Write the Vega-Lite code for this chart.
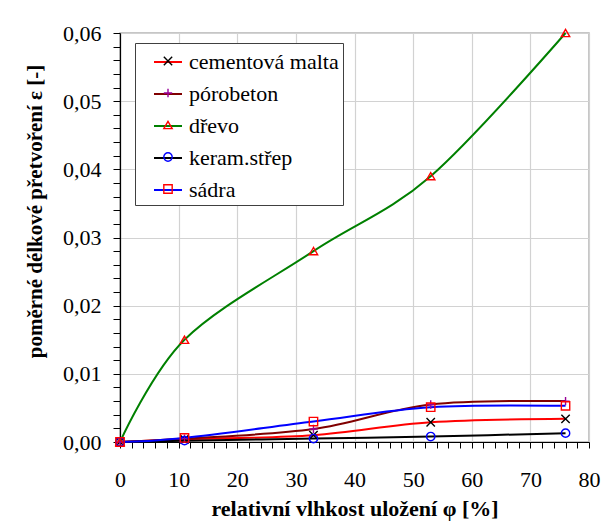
{
  "$schema": "https://vega.github.io/schema/vega-lite/v6.json",
  "width": 469,
  "height": 409,
  "autosize": {"type": "none"},
  "padding": {"left": 120, "top": 33, "right": 16, "bottom": 87},
  "background": "white",
  "config": {
    "font": "Liberation Serif",
    "view": {"stroke": "#b4b4b4", "strokeWidth": 1.5},
    "axis": {
      "domainColor": "black",
      "domainWidth": 1.2,
      "tickColor": "black",
      "tickWidth": 1,
      "labelFont": "Liberation Serif",
      "labelFontSize": 22,
      "labelColor": "black",
      "titleFont": "Liberation Serif",
      "titleFontSize": 22,
      "titleFontWeight": "bold",
      "titleColor": "black",
      "gridColor": "#d2d2d2",
      "gridWidth": 1.2
    }
  },
  "data": {
    "values": [
      {"series": "cementová malta", "marker": "×", "x": 0, "y": 0},
      {"series": "cementová malta", "marker": "×", "x": 11, "y": 0.0004},
      {"series": "cementová malta", "marker": "×", "x": 33, "y": 0.001},
      {"series": "cementová malta", "marker": "×", "x": 53, "y": 0.0029},
      {"series": "cementová malta", "marker": "×", "x": 76, "y": 0.0034},
      {"series": "pórobeton", "marker": "+", "x": 0, "y": 0},
      {"series": "pórobeton", "marker": "+", "x": 11, "y": 0.0005},
      {"series": "pórobeton", "marker": "+", "x": 33, "y": 0.0019},
      {"series": "pórobeton", "marker": "+", "x": 53, "y": 0.0055},
      {"series": "pórobeton", "marker": "+", "x": 76, "y": 0.006},
      {"series": "dřevo", "marker": "△", "x": 0, "y": 0},
      {"series": "dřevo", "marker": "△", "x": 11, "y": 0.015},
      {"series": "dřevo", "marker": "△", "x": 33, "y": 0.028},
      {"series": "dřevo", "marker": "△", "x": 53, "y": 0.039},
      {"series": "dřevo", "marker": "△", "x": 76, "y": 0.06},
      {"series": "keram.střep", "marker": "○", "x": 0, "y": 0},
      {"series": "keram.střep", "marker": "○", "x": 11, "y": 0.0002},
      {"series": "keram.střep", "marker": "○", "x": 33, "y": 0.0005},
      {"series": "keram.střep", "marker": "○", "x": 53, "y": 0.0008},
      {"series": "keram.střep", "marker": "○", "x": 76, "y": 0.0013},
      {"series": "sádra", "marker": "□", "x": 0, "y": 0},
      {"series": "sádra", "marker": "□", "x": 11, "y": 0.0006},
      {"series": "sádra", "marker": "□", "x": 33, "y": 0.003},
      {"series": "sádra", "marker": "□", "x": 53, "y": 0.0051},
      {"series": "sádra", "marker": "□", "x": 76, "y": 0.0053}
    ]
  },
  "layer": [
    {
      "mark": {"type": "line", "interpolate": "cardinal", "tension": 0, "strokeWidth": 2},
      "encoding": {
        "x": {
          "field": "x", "type": "quantitative",
          "scale": {"domain": [0, 80], "nice": false, "zero": false},
          "axis": {
            "orient": "bottom",
            "values": [0, 10, 20, 30, 40, 50, 60, 70, 80],
            "grid": true,
            "tickSize": 6,
            "labelPadding": 31,
            "labelBaseline": "middle",
            "labelFlush": false,
            "labelOverlap": false,
            "title": "relativní vlhkost uložení φ  [%]",
            "titlePadding": 8
          }
        },
        "y": {
          "field": "y", "type": "quantitative",
          "scale": {"domain": [0, 0.06], "nice": false},
          "axis": {
            "orient": "left",
            "values": [0, 0.01, 0.02, 0.03, 0.04, 0.05, 0.06],
            "grid": true,
            "tickSize": 7,
            "labelPadding": 12,
            "labelFlush": false,
            "labelOverlap": false,
            "labelExpr": "replace(format(datum.value, '.2f'), '.', ',')",
            "title": "poměrné délkové přetvoření ε [-]",
            "titleFontSize": 21,
            "titleY": 178,
            "titlePadding": 17
          }
        },
        "color": {
          "field": "series", "type": "nominal",
          "scale": {
            "domain": ["cementová malta", "pórobeton", "dřevo", "keram.střep", "sádra"],
            "range": ["#ff0000", "#800000", "#008000", "#000000", "#0000ff"]
          },
          "legend": {
            "orient": "none",
            "legendX": 15,
            "legendY": 10,
            "title": null,
            "symbolType": "stroke",
            "symbolSize": 784,
            "symbolStrokeWidth": 2,
            "symbolOffset": 14,
            "labelOffset": 6,
            "labelFont": "Liberation Serif",
            "labelFontSize": 22,
            "labelColor": "black",
            "labelLimit": 400,
            "labelExpr": "datum.label + '  '",
            "padding": 4,
            "rowPadding": 6,
            "fillColor": "white",
            "strokeColor": "#404040",
            "zindex": 1
          }
        }
      }
    },
    {
      "mark": {"type": "point", "filled": false, "strokeWidth": 1.4, "size": 70, "opacity": 1},
      "encoding": {
        "x": {
          "field": "x", "type": "quantitative",
          "axis": {
            "orient": "bottom",
            "values": [2, 4, 6, 8, 12, 14, 16, 18, 22, 24, 26, 28, 32, 34, 36, 38, 42, 44, 46, 48, 52, 54, 56, 58, 62, 64, 66, 68, 72, 74, 76, 78],
            "grid": false, "domain": false, "labels": false, "tickSize": 6, "title": null
          }
        },
        "y": {
          "field": "y", "type": "quantitative",
          "axis": {
            "orient": "left",
            "values": [0.002, 0.004, 0.006, 0.008, 0.012, 0.014, 0.016, 0.018, 0.022, 0.024, 0.026, 0.028, 0.032, 0.034, 0.036, 0.038, 0.042, 0.044, 0.046, 0.048, 0.052, 0.054, 0.056, 0.058],
            "grid": false, "domain": false, "labels": false, "tickSize": 7, "title": null
          }
        },
        "shape": {
          "field": "marker", "type": "nominal",
          "scale": {
            "domain": ["×", "+", "△", "○", "□"],
            "range": ["M-1,-1L1,1M-1,1L1,-1", "M-1,0L1,0M0,-1L0,1", "triangle-up", "circle", "square"]
          },
          "legend": {
            "orient": "none",
            "legendX": 15,
            "legendY": 10,
            "title": null,
            "symbolSize": 70,
            "symbolStrokeWidth": 1.4,
            "symbolOffset": 15,
            "symbolFillColor": "transparent",
            "labelFontSize": 22,
            "labelExpr": "''",
            "padding": 7,
            "rowPadding": 10,
            "zindex": 2
          }
        },
        "stroke": {
          "field": "marker", "type": "nominal",
          "scale": {
            "domain": ["×", "+", "△", "○", "□"],
            "range": ["#000000", "#990099", "#ff0000", "#0000ff", "#ff0000"]
          },
          "legend": {
            "orient": "none",
            "legendX": 15,
            "legendY": 10,
            "title": null,
            "symbolSize": 70,
            "symbolStrokeWidth": 1.4,
            "symbolOffset": 15,
            "symbolFillColor": "transparent",
            "labelFontSize": 22,
            "labelExpr": "''",
            "padding": 7,
            "rowPadding": 10,
            "zindex": 2
          }
        }
      }
    }
  ],
  "resolve": {"axis": {"x": "independent", "y": "independent"}}
}
